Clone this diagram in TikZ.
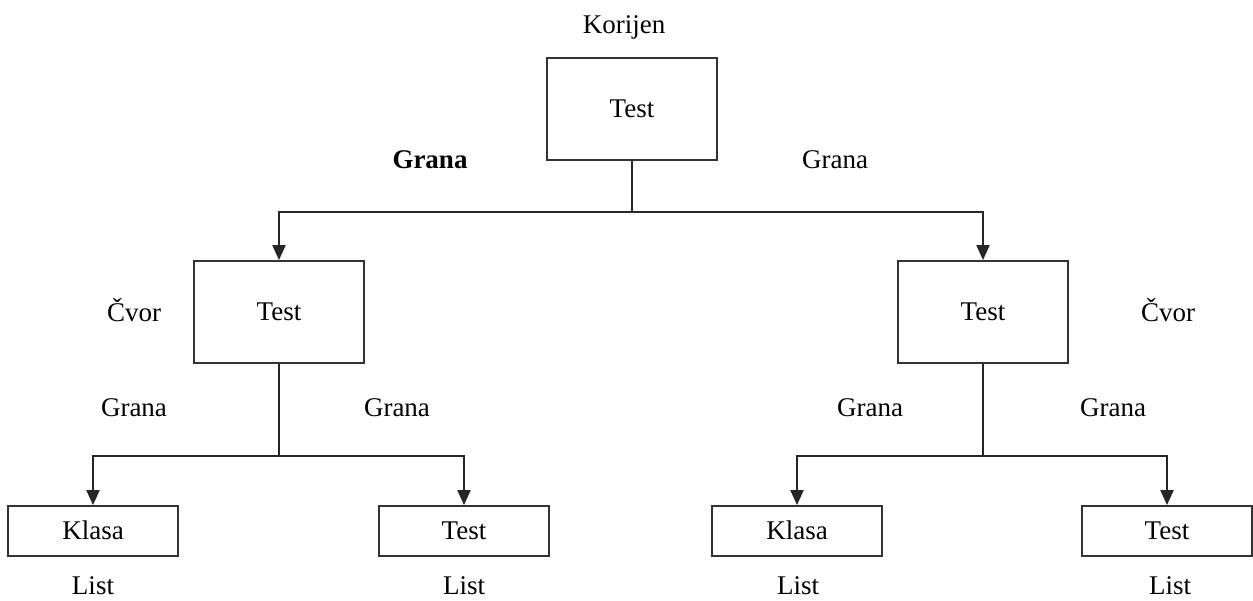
\documentclass[tikz,border=0pt]{standalone}
\usepackage{fontspec}
\setmainfont{Liberation Serif}
\usetikzlibrary{arrows.meta}
\begin{document}
\begin{tikzpicture}[x=1pt,y=-1pt,
  txt/.style={font=\fontsize{27}{31}\selectfont},
  box/.style={txt, draw, line width=1.8pt, draw=black!80, inner sep=0pt, text height=17.8pt, text depth=0pt},
  big/.style={box, minimum width=170pt, minimum height=102pt},
  leaf/.style={box, minimum width=170pt, minimum height=50pt},
  lbl/.style={txt, anchor=base, inner sep=0pt},
  conn/.style={line width=2pt, draw=black!85},
  arr/.style={conn, -{Triangle[width=13pt,length=15pt]}}]
\useasboundingbox (0,0) rectangle (1253,600);
\node[big] (root) at (632,109) {Test};
\node[big] (left) at (279,312) {Test};
\node[big] (right) at (983,312) {Test};
\node[leaf] (l1) at (93,531) {Klasa};
\node[leaf] (l2) at (464,531) {Test};
\node[leaf] (l3) at (797,531) {Klasa};
\node[leaf] (l4) at (1167,531) {Test};
\node[lbl] (korijen) at (624,33) {Korijen};
\node[lbl,font=\fontsize{27}{31}\selectfont\bfseries] (g1) at (430,168) {Grana};
\node[lbl] (g2) at (835,168) {Grana};
\node[lbl] (c1) at (134,321) {Čvor};
\node[lbl] (c2) at (1168,321) {Čvor};
\node[lbl] (g3) at (134,416) {Grana};
\node[lbl] (g4) at (397,416) {Grana};
\node[lbl] (g5) at (870,416) {Grana};
\node[lbl] (g6) at (1113,416) {Grana};
\node[lbl] (s1) at (93,594) {List};
\node[lbl] (s2) at (464,594) {List};
\node[lbl] (s3) at (798,594) {List};
\node[lbl] (s4) at (1170,594) {List};
\coordinate (j0) at (632,212);
\coordinate (j1) at (279,456);
\coordinate (j2) at (983,456);
\draw[conn] (root.south) -- (j0);
\draw[arr] (j0) -| (left.north);
\draw[arr] (j0) -| (right.north);
\draw[conn] (left.south) -- (j1);
\draw[arr] (j1) -| (l1.north);
\draw[arr] (j1) -| (l2.north);
\draw[conn] (right.south) -- (j2);
\draw[arr] (j2) -| (l3.north);
\draw[arr] (j2) -| (l4.north);
\end{tikzpicture}
\end{document}
